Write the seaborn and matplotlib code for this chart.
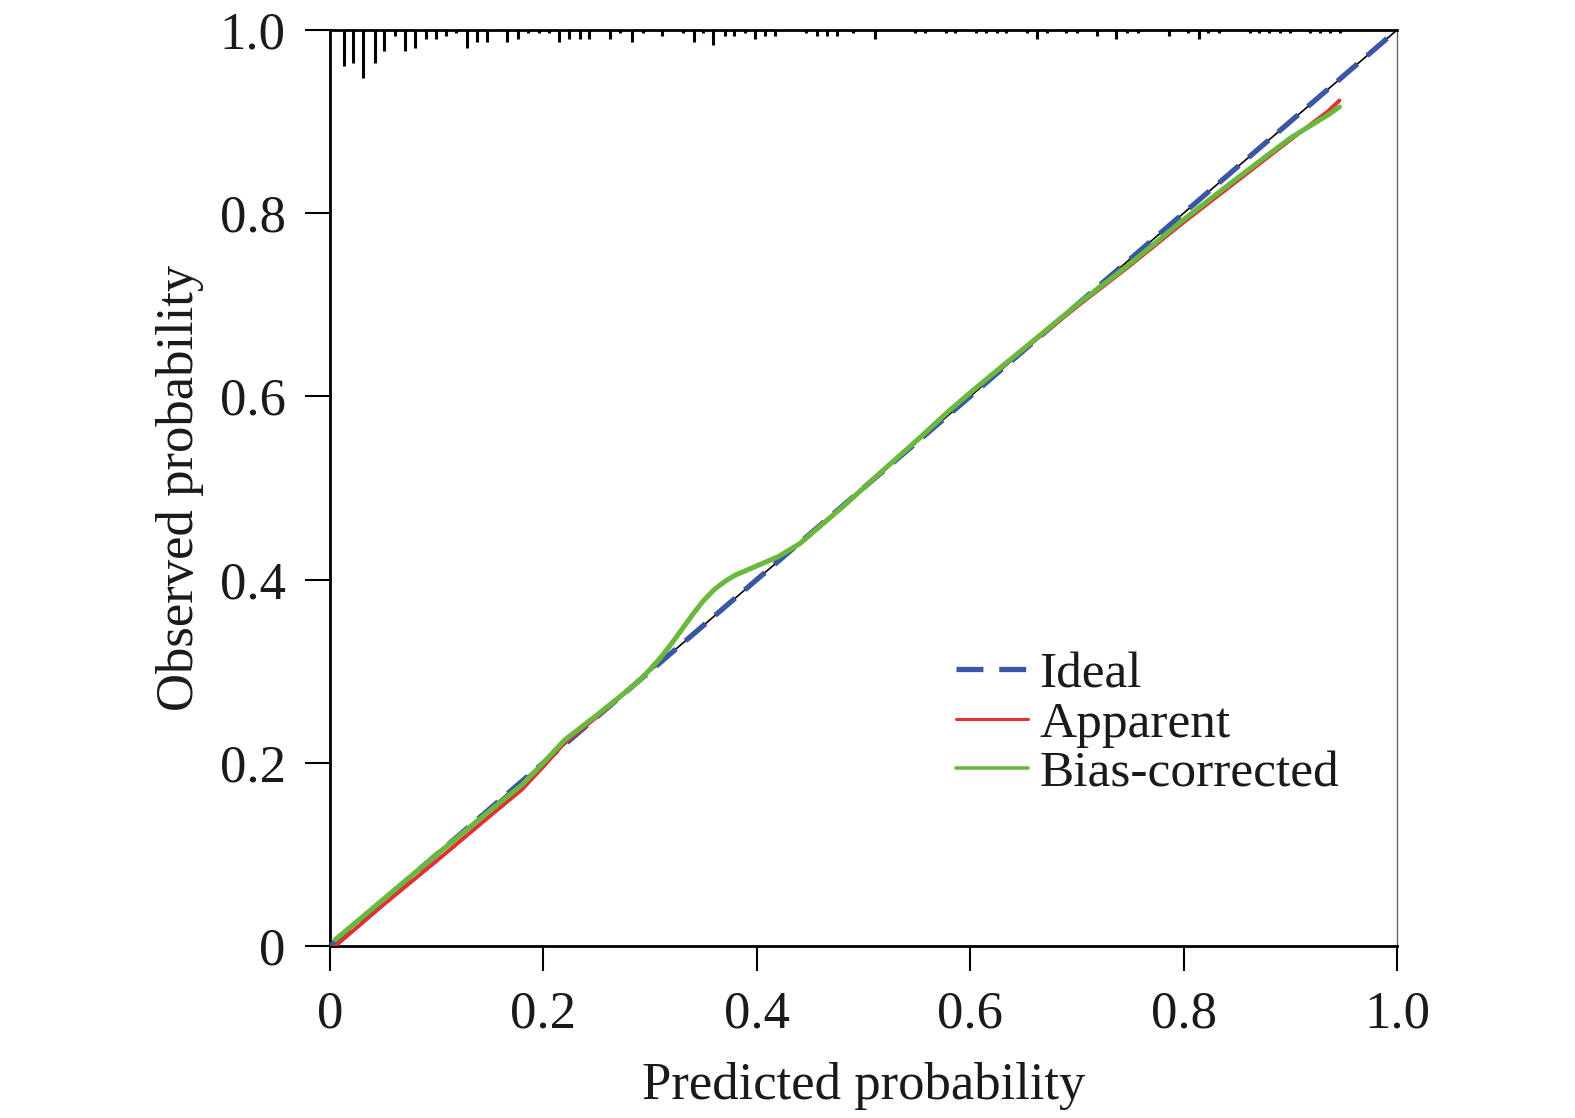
import pandas as pd
import seaborn as sns
import matplotlib.pyplot as plt

# calibration curve values
pred_apparent = [0.005, 0.05, 0.10, 0.15, 0.18, 0.20, 0.22, 0.25, 0.28, 0.29, 0.30, 0.31,
                 0.32, 0.33, 0.34, 0.35, 0.36, 0.37, 0.38, 0.39, 0.40, 0.42, 0.44, 0.46,
                 0.48, 0.50, 0.52, 0.55, 0.58, 0.60, 0.63, 0.65, 0.70, 0.75, 0.80, 0.85,
                 0.90, 0.935, 0.946]
obs_apparent = [0.000, 0.045, 0.093, 0.142, 0.171, 0.196, 0.222, 0.250, 0.280, 0.290, 0.302, 0.315,
                0.330, 0.346, 0.362, 0.377, 0.389, 0.398, 0.405, 0.410, 0.415, 0.425, 0.439, 0.459,
                0.479, 0.500, 0.521, 0.552, 0.584, 0.604, 0.633, 0.651, 0.698, 0.743, 0.790, 0.835,
                0.880, 0.911, 0.923]

pred_bias = [0.005, 0.05, 0.10, 0.15, 0.18, 0.20, 0.22, 0.25, 0.28, 0.29, 0.30, 0.31,
             0.32, 0.33, 0.34, 0.35, 0.36, 0.37, 0.38, 0.39, 0.40, 0.42, 0.44, 0.46,
             0.48, 0.50, 0.52, 0.55, 0.58, 0.60, 0.63, 0.65, 0.70, 0.75, 0.80, 0.85,
             0.90, 0.935, 0.946]
obs_bias = [0.007, 0.051, 0.100, 0.148, 0.176, 0.200, 0.225, 0.252, 0.280, 0.290, 0.302, 0.315,
            0.330, 0.346, 0.362, 0.377, 0.389, 0.398, 0.405, 0.410, 0.415, 0.425, 0.439, 0.459,
            0.479, 0.500, 0.521, 0.552, 0.584, 0.604, 0.633, 0.652, 0.700, 0.745, 0.793, 0.838,
            0.882, 0.907, 0.916]

ideal = [0.0, 1.0]

# distribution of predicted probabilities (rug along the top)
rug_pos = [0.013, 0.022, 0.031, 0.042, 0.051, 0.061, 0.070, 0.080, 0.090, 0.099, 0.109, 0.118,
           0.128, 0.138, 0.147, 0.166, 0.176, 0.186, 0.196, 0.205, 0.215, 0.224, 0.234, 0.243,
           0.262, 0.272, 0.283, 0.293, 0.311, 0.331, 0.341, 0.350, 0.359, 0.370, 0.379, 0.389,
           0.398, 0.408, 0.417, 0.446, 0.456, 0.466, 0.475, 0.490, 0.511, 0.548, 0.558, 0.577,
           0.586, 0.605, 0.615, 0.625, 0.634, 0.653, 0.663, 0.672, 0.690, 0.700, 0.719, 0.737,
           0.747, 0.757, 0.786, 0.804, 0.814, 0.823, 0.833, 0.862, 0.871, 0.880, 0.890, 0.900,
           0.918, 0.928, 0.937, 0.947]
rug_count = [12, 11, 16, 11, 7, 2, 7, 6, 3, 3, 2, 1,
             6, 4, 4, 4, 3, 1, 1, 1, 4, 3, 3, 3,
             3, 1, 4, 1, 2, 1, 4, 1, 5, 2, 2, 1,
             3, 2, 2, 1, 2, 2, 2, 1, 3, 1, 1, 1,
             1, 1, 1, 1, 1, 1, 3, 1, 1, 1, 2, 3,
             1, 1, 2, 1, 3, 1, 1, 1, 1, 1, 1, 1,
             1, 1, 1, 1]

sns.set_style('ticks')
plt.rcParams['font.family'] = ['Liberation Serif', 'DejaVu Serif']

fig = plt.figure(figsize=(15.75, 11.18), dpi=100)
ax = fig.add_axes([0.2095, 0.1538, 0.887 - 0.2095, 0.9732 - 0.1538])

# rug hanging down from the top
rug_unit = 0.0033
ax.vlines(rug_pos, [1 - c * rug_unit for c in rug_count], 1.0, color='black', lw=2.2, zorder=2)

# ideal line: thin black under blue dashes
sns.lineplot(x=ideal, y=ideal, ax=ax, color='black', lw=1.2, zorder=3)
sns.lineplot(x=ideal, y=ideal, ax=ax, color='#3a56a5', lw=3.8, zorder=4,
             dashes=False, linestyle=(0, (5.0, 2.4)))

df_app = pd.DataFrame({'pred': pred_apparent, 'obs': obs_apparent})
df_bias = pd.DataFrame({'pred': pred_bias, 'obs': obs_bias})
sns.lineplot(data=df_app, x='pred', y='obs', ax=ax, color='#e03030', lw=2.8, sort=False, zorder=5)
sns.lineplot(data=df_bias, x='pred', y='obs', ax=ax, color='#6ab83f', lw=3.6, sort=False, zorder=6)

ax.set_xlim(0, 1)
ax.set_ylim(0, 1)
ticks = [0, 0.2, 0.4, 0.6, 0.8, 1.0]
tick_labels = ['0', '0.2', '0.4', '0.6', '0.8', '1.0']
ax.set_xticks(ticks)
ax.set_xticklabels(tick_labels)
ax.set_yticks(ticks)
ax.set_yticklabels(tick_labels)
ax.tick_params(axis='both', labelsize=38, length=18, width=1.5, direction='out',
               color='black', labelcolor='#1a1a1a')
ax.tick_params(axis='x', pad=14)
ax.tick_params(axis='y', pad=14)

for side in ['left', 'bottom', 'top']:
    ax.spines[side].set_color('black')
    ax.spines[side].set_linewidth(2.0)
ax.spines['right'].set_color('#666666')
ax.spines['right'].set_linewidth(1.0)

ax.set_xlabel('Predicted probability', fontsize=38, color='#1a1a1a', labelpad=17)
ax.set_ylabel('Observed probability', fontsize=38, color='#1a1a1a', labelpad=11)

h_ideal = plt.Line2D([], [], color='#3a56a5', lw=3.8, linestyle=(0, (5.1, 3.0)))
h_app = plt.Line2D([], [], color='#e03030', lw=2.2)
h_bias = plt.Line2D([], [], color='#6ab83f', lw=2.6)
ax.legend([h_ideal, h_app, h_bias], ['Ideal', 'Apparent', 'Bias-corrected'],
          loc='center left', bbox_to_anchor=(0.5625, 0.242), frameon=False, fontsize=37,
          handlelength=1.4, handletextpad=0.22, labelspacing=0.05, borderpad=0,
          labelcolor='#1a1a1a')

fig.savefig('out.png', dpi=100)
